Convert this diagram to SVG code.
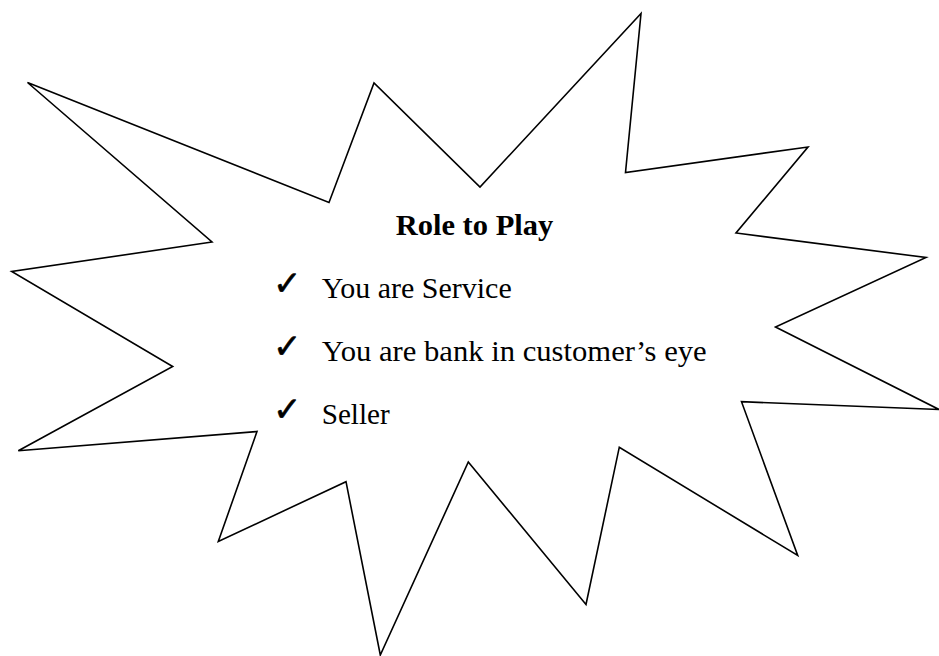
<svg xmlns="http://www.w3.org/2000/svg" width="939" height="656" viewBox="0 0 939 656">
<style>
.star{fill:#fff;stroke:#000;stroke-width:1.6;stroke-linejoin:miter}
.t{font-family:"Liberation Serif","Times New Roman",serif;font-size:30px;fill:#000}
.b{font-weight:bold}
.ck{font-family:"DejaVu Sans",sans-serif;font-size:34px;fill:#000;stroke:#000;stroke-width:0.6}
</style>
<rect width="939" height="656" fill="#fff"/>
<g id="burst">
<polygon class="star" points="27.5,82.5 329,202.5 374,83 480,187 641,13.5 625.5,172.5 808,147 736,233 926,257.5 775.5,327 939,409.5 741.5,401.7 797.7,555.5 619.3,447.2 586,604.5 468.3,462 380.3,655 346,481.7 218.3,541.5 257,431.5 18.3,450.7 172.7,366.5 11.7,271.5 212,242"/>
</g>
<g id="label">
<text class="t b" x="395.7" y="235" textLength="157.6" lengthAdjust="spacingAndGlyphs">Role to Play</text>
<text class="ck" x="273" y="295">✓</text>
<text class="t" x="321.7" y="298.3" textLength="190" lengthAdjust="spacingAndGlyphs">You are Service</text>
<text class="ck" x="273" y="358">✓</text>
<text class="t" x="321.7" y="361" textLength="385" lengthAdjust="spacingAndGlyphs">You are bank in customer’s eye</text>
<text class="ck" x="273" y="421">✓</text>
<text class="t" x="321.7" y="424" textLength="68" lengthAdjust="spacingAndGlyphs">Seller</text>
</g>
</svg>
